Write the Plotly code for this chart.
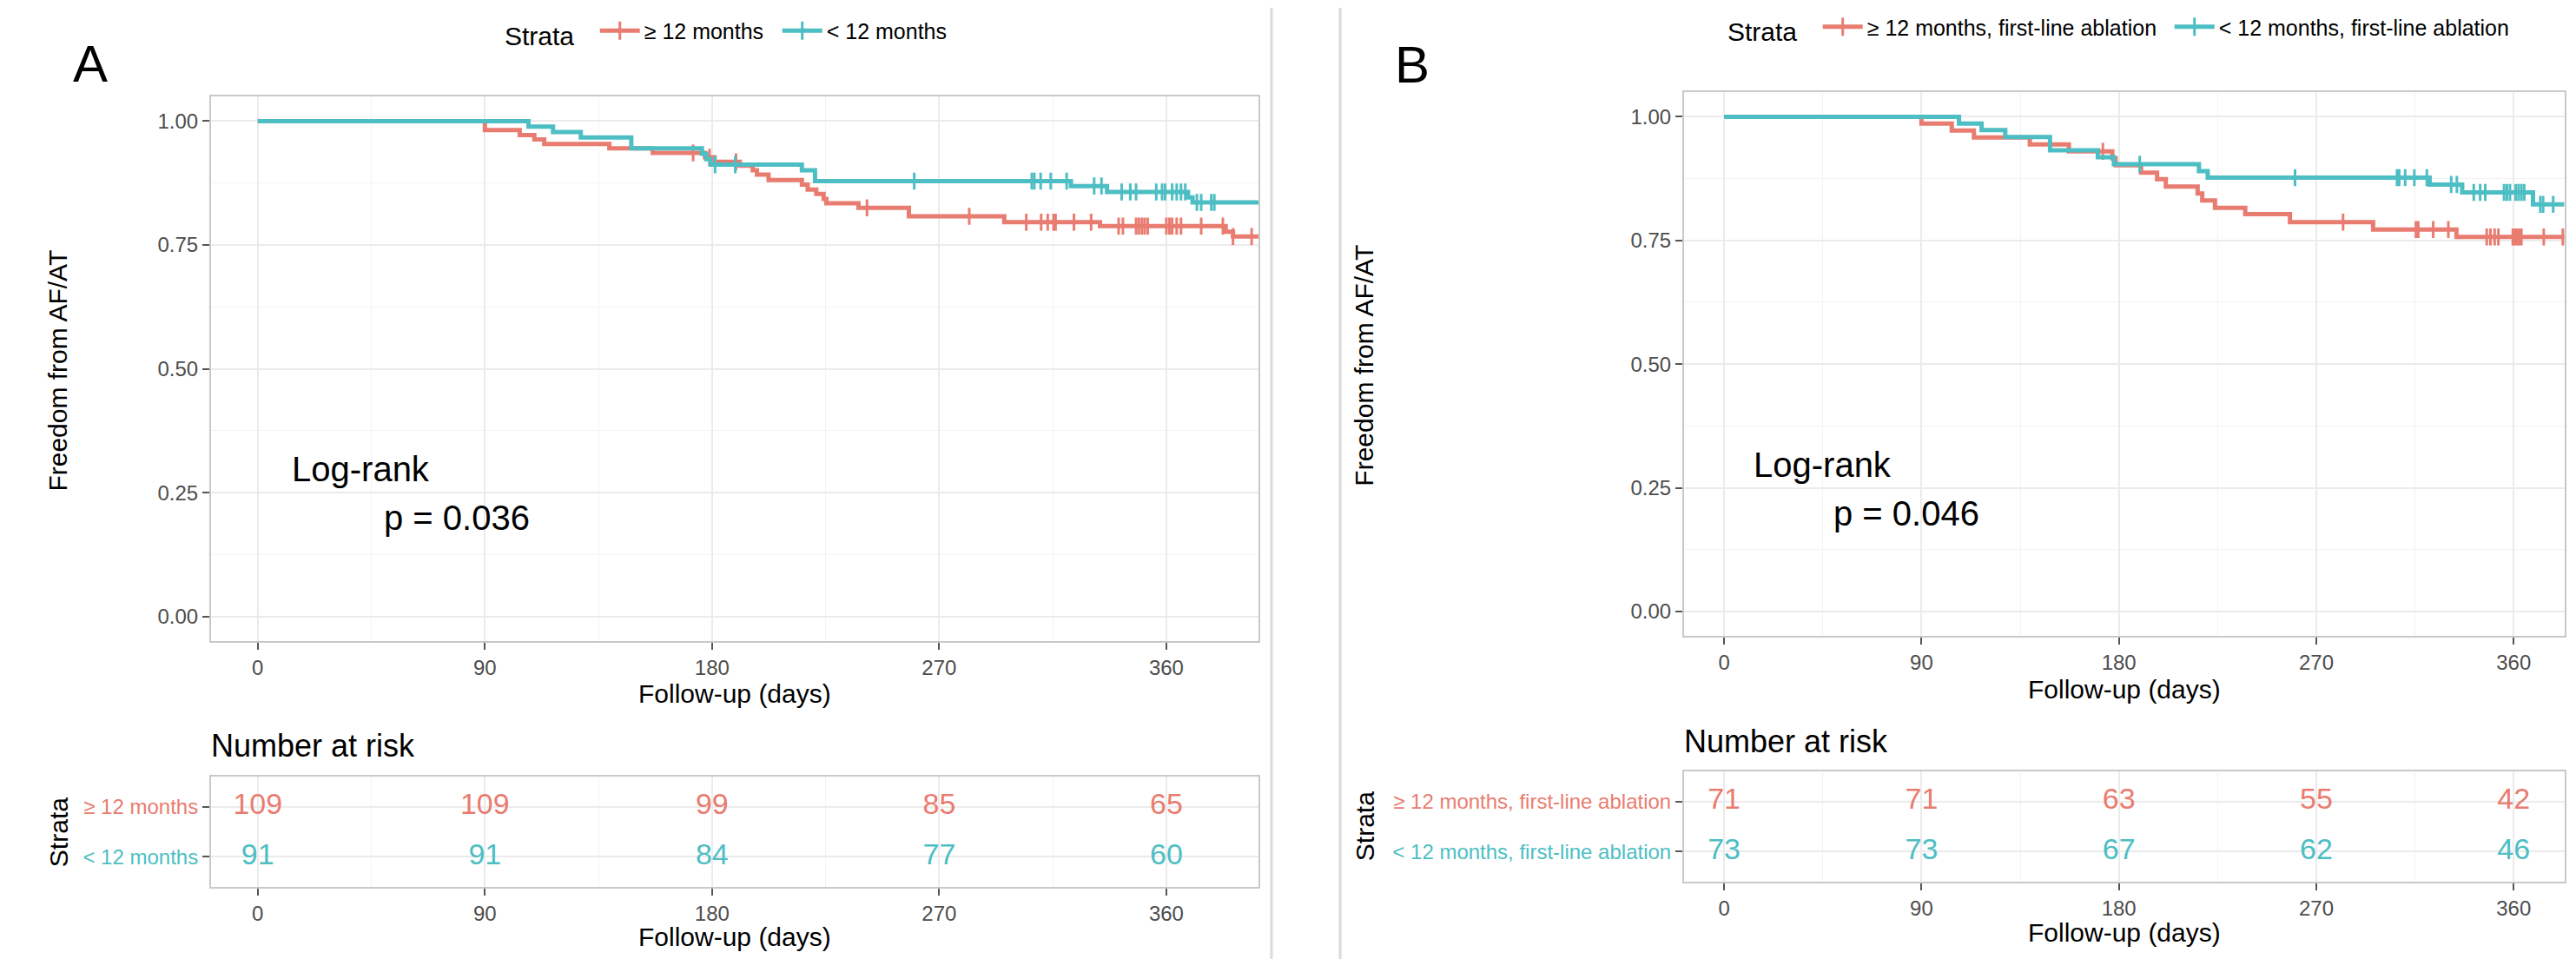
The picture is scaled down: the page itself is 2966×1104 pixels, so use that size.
import plotly.graph_objects as go

W, H = 2966, 1104
RED = '#E97C70'
TEAL = '#4DBEC4'
FONT = 'Liberation Sans, Arial, sans-serif'

# ---- panel A : >= 12 months vs < 12 months ----
a_long_t = [90, 103.8, 109.6, 113.5, 139.3, 156.5, 177.2, 181, 191, 196.1, 197.8, 202.4,
            215.6, 217.9, 221.3, 224.2, 225.3, 238, 258, 295.8, 333.7, 383.5, 386.4]
a_long_s = [0.982, 0.972, 0.963, 0.954, 0.945, 0.936, 0.927, 0.918, 0.910, 0.901, 0.892, 0.881,
            0.872, 0.862, 0.853, 0.843, 0.834, 0.825, 0.808, 0.796, 0.788, 0.777, 0.767]
a_long_cens = [172.5, 179, 189.5, 241.4, 281.9, 304.5, 310.4, 313.0, 315.3, 316.1, 323.4, 330.2,
               341.1, 342.8, 348.0, 349.1, 350.3, 351.4, 352.6, 360.0, 361.2, 362.3, 364.1,
               365.8, 373.8, 382.4, 386.4, 393.8]
a_short_t = [107.3, 117, 128, 148, 176, 177.7, 179.4, 215.6, 220.8, 322.2, 336.5, 368.6, 370.4]
a_short_s = [0.989, 0.978, 0.967, 0.945, 0.934, 0.923, 0.912, 0.901, 0.879, 0.869, 0.857, 0.846, 0.836]
a_short_cens = [181.2, 189.2, 260.1, 306.7, 307.7, 310.2, 314.2, 320.5, 331.4, 334.3, 342.3, 345.7,
                348.0, 356.0, 358.3, 359.5, 362.3, 364.1, 365.8, 367.5, 372.1, 373.8, 377.8, 379.0]
a_end = 396.5

# ---- panel B : first-line ablation ----
b_long_t = [90, 103.8, 113.9, 139.4, 157.2, 177, 178.5, 190.1, 197.4, 201.4, 215.9, 218, 223.8,
            237.6, 258, 295.9, 333.9]
b_long_s = [0.986, 0.972, 0.958, 0.944, 0.930, 0.916, 0.902, 0.887, 0.874, 0.859, 0.845, 0.831,
            0.816, 0.803, 0.787, 0.772, 0.757]
b_long_cens = [172.7, 282.2, 315.4, 316.5, 323.3, 330.2, 347.7, 349.4, 351.3, 353.0, 359.6, 360.6,
               361.6, 362.6, 363.5, 373.7, 382.4]
b_short_t = [107.1, 117.4, 128.2, 148.6, 170.4, 177.7, 216.5, 220.5, 321.7, 336.5, 368.8]
b_short_s = [0.986, 0.973, 0.959, 0.932, 0.918, 0.904, 0.890, 0.877, 0.863, 0.847, 0.823]
b_short_cens = [189.5, 260.3, 306.8, 307.8, 310.5, 314.7, 320.4, 331.5, 334.1, 341.8, 344.7, 347.0,
                355.6, 356.9, 358.3, 360.9, 362.2, 363.5, 364.8, 372.1, 373.4, 378.0]
b_end = 383

# ---- number at risk ----
risk_times = [0, 90, 180, 270, 360]
a_risk_long = [109, 109, 99, 85, 65]
a_risk_short = [91, 91, 84, 77, 60]
b_risk_long = [71, 71, 63, 55, 42]
b_risk_short = [73, 73, 67, 62, 46]

labels_a = ['≥ 12 months', '< 12 months']
labels_b = ['≥ 12 months, first-line ablation', '< 12 months, first-line ablation']
pvals = ['p = 0.036', 'p = 0.046']


def surv_at(t, times, surv):
    s = 1.0
    for ti, si in zip(times, surv):
        if ti <= t:
            s = si
    return s


def add_km(fig, times, surv, cens, end, color, name, xa, ya, legend):
    fig.add_trace(go.Scatter(
        x=[0] + times + [end], y=[1.0] + surv + [surv[-1]],
        mode='lines', line=dict(color=color, width=5, shape='hv'),
        xaxis=xa, yaxis=ya, showlegend=False, hoverinfo='skip'))
    fig.add_trace(go.Scatter(
        x=cens, y=[surv_at(c, times, surv) for c in cens],
        mode='markers',
        marker=dict(symbol='line-ns', size=14, color=color, line=dict(width=3, color=color)),
        xaxis=xa, yaxis=ya, showlegend=False, hoverinfo='skip'))
    # legend entry only
    fig.add_trace(go.Scatter(
        x=[None], y=[None], mode='lines+markers', name=name,
        line=dict(color=color, width=5),
        marker=dict(symbol='line-ns', size=15, color=color, line=dict(width=3, color=color)),
        xaxis=xa, yaxis=ya, legend=legend))


def add_risk(fig, long_vals, short_vals, xa, ya):
    fig.add_trace(go.Scatter(
        x=risk_times, y=[2] * len(risk_times), text=[str(v) for v in long_vals],
        mode='text', textfont=dict(size=34, color=RED, family=FONT),
        xaxis=xa, yaxis=ya, showlegend=False, hoverinfo='skip'))
    fig.add_trace(go.Scatter(
        x=risk_times, y=[1] * len(risk_times), text=[str(v) for v in short_vals],
        mode='text', textfont=dict(size=34, color=TEAL, family=FONT),
        xaxis=xa, yaxis=ya, showlegend=False, hoverinfo='skip'))


fig = go.Figure()
add_km(fig, a_long_t, a_long_s, a_long_cens, a_end, RED, labels_a[0], 'x', 'y', 'legend')
add_km(fig, a_short_t, a_short_s, a_short_cens, a_end, TEAL, labels_a[1], 'x', 'y', 'legend')
add_risk(fig, a_risk_long, a_risk_short, 'x2', 'y2')
add_km(fig, b_long_t, b_long_s, b_long_cens, b_end, RED, labels_b[0], 'x3', 'y3', 'legend2')
add_km(fig, b_short_t, b_short_s, b_short_cens, b_end, TEAL, labels_b[1], 'x3', 'y3', 'legend2')
add_risk(fig, b_risk_long, b_risk_short, 'x4', 'y4')


def px(x):
    return x / W


def py(y):
    return 1 - y / H


common = dict(
    showline=True, mirror=True, linecolor='#C9C9C9', linewidth=2,
    showgrid=True, gridcolor='#EBEBEB', gridwidth=2, zeroline=False,
    ticks='outside', ticklen=8, tickwidth=2, tickcolor='#555555',
    tickfont=dict(size=24, color='#4D4D4D', family=FONT),
)


def xax(dom, rng, anchor):
    return dict(domain=dom, range=rng, anchor=anchor, tickvals=risk_times,
                minor=dict(dtick=45, tick0=0, showgrid=True, gridcolor='#F3F3F3', gridwidth=1),
                **common)


dom_a = [px(235), px(1441)]
dom_b = [px(1931), px(2945)]
rng_a = [-18.5, 396.5]
rng_b = [-18.25, 383.25]

surv_ticks = [0, 0.25, 0.5, 0.75, 1.0]
main_y = dict(range=[-0.05, 1.05], tickvals=surv_ticks, ticktext=['%.2f' % v for v in surv_ticks],
              minor=dict(dtick=0.125, tick0=0, showgrid=True, gridcolor='#F3F3F3', gridwidth=1),
              **common)


def risk_y(labels, dom, anchor):
    return dict(domain=dom, anchor=anchor, range=[0.4, 2.6], tickvals=[2, 1],
                ticktext=['<span style="color:%s">%s</span>' % (RED, labels[0]),
                          '<span style="color:%s">%s</span>' % (TEAL, labels[1])],
                **common)


def legend_box(x, y, entry):
    return dict(orientation='h', x=px(x), y=py(y), xanchor='left', yanchor='middle',
                title=dict(text='Strata\u00a0\u00a0', font=dict(size=30, family=FONT), side='left'),
                font=dict(size=25, family=FONT), itemwidth=46, entrywidth=entry,
                bgcolor='rgba(0,0,0,0)')


fig.update_layout(
    width=W, height=H, margin=dict(l=0, r=0, t=0, b=0),
    paper_bgcolor='white', plot_bgcolor='white',
    font=dict(family=FONT, color='black'),
    xaxis=xax(dom_a, rng_a, 'y'),
    yaxis=dict(domain=[py(730), py(102)], anchor='x', **main_y),
    xaxis2=xax(dom_a, rng_a, 'y2'),
    yaxis2=risk_y(labels_a, [py(1013), py(886)], 'x2'),
    xaxis3=xax(dom_b, rng_b, 'y3'),
    yaxis3=dict(domain=[py(724), py(97)], anchor='x3', **main_y),
    xaxis4=xax(dom_b, rng_b, 'y4'),
    yaxis4=risk_y(labels_b, [py(1007), py(880)], 'x4'),
    legend=legend_box(571, 29, 149),
    legend2=legend_box(1979, 24, 344),
)

ann = []


def text(t, x, y, size, angle=0, xanchor='center', xref='paper', yref='paper'):
    ann.append(dict(text=t, x=x, y=y, xref=xref, yref=yref, showarrow=False,
                    xanchor=xanchor, yanchor='middle', textangle=angle,
                    font=dict(size=size, color='black', family=FONT)))


# panel letters
text('A', px(96), py(65), 60)
text('B', px(1618), py(66), 60)
# axis titles
text('Freedom from AF/AT', px(59), py(418), 30, angle=-90)
text('Freedom from AF/AT', px(1563), py(412), 30, angle=-90)
text('Strata', px(59), py(950), 30, angle=-90)
text('Strata', px(1563), py(943), 30, angle=-90)
text('Follow-up (days)', px(838), py(790), 30)
text('Follow-up (days)', px(838), py(1070), 30)
text('Follow-up (days)', px(2438), py(785), 30)
text('Follow-up (days)', px(2438), py(1065), 30)
# risk table titles
text('Number at risk', px(233), py(850), 36, xanchor='left')
text('Number at risk', px(1929), py(845), 36, xanchor='left')
# log-rank
text('Log-rank', 41, 0.297, 40, xref='x', yref='y')
text(pvals[0], 78.8, 0.199, 40, xref='x', yref='y')
text('Log-rank', 44.9, 0.296, 40, xref='x3', yref='y3')
text(pvals[1], 83.3, 0.198, 40, xref='x3', yref='y3')
fig.update_layout(annotations=ann)

# frame lines of the two screenshot panels
border = dict(color='#DADADA', width=3)
fig.add_shape(type='line', xref='paper', yref='paper', x0=px(1456), x1=px(1456), y0=py(0), y1=py(1102), line=border)
fig.add_shape(type='line', xref='paper', yref='paper', x0=px(33), x1=px(1456), y0=py(1102), y1=py(1102), line=border)
fig.add_shape(type='line', xref='paper', yref='paper', x0=px(1535), x1=px(1535), y0=py(0), y1=py(1098), line=border)
fig.add_shape(type='line', xref='paper', yref='paper', x0=px(1535), x1=px(2966), y0=py(1098), y1=py(1098), line=border)

fig.write_html('out.html')
